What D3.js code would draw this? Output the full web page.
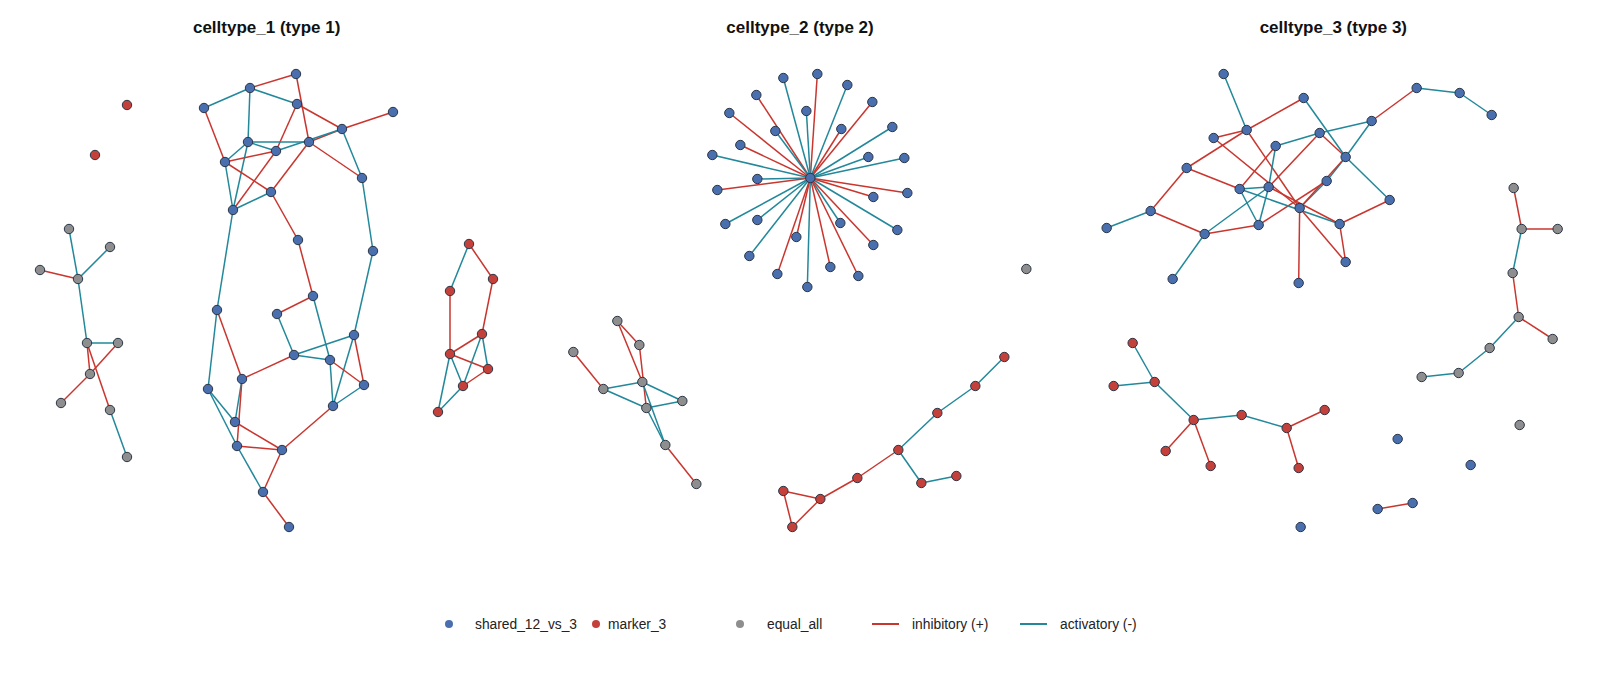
<!DOCTYPE html>
<html>
<head>
<meta charset="utf-8">
<script src="https://cdn.jsdelivr.net/npm/d3@7"></script>
<style>
  body { margin: 0; background: #fff; }
  svg { display: block; font-family: "Liberation Sans", Arial, sans-serif; }
</style>
</head>
<body>
<svg></svg>
<script>
// figure size
const size = {w: 1600, h: 681};
const panelW = size.w / 3;

const titles = ['celltype_1 (type 1)', 'celltype_2 (type 2)', 'celltype_3 (type 3)'];

// node groups and edge types (legend order)
const groups = ['shared_12_vs_3', 'marker_3', 'equal_all'];
const groupCode = {S: 'shared_12_vs_3', M: 'marker_3', E: 'equal_all'};
const edgeTypes = ['inhibitory (+)', 'activatory (-)'];
const edgeCode = {I: 'inhibitory (+)', A: 'activatory (-)'};

// layout coordinates, x relative to each panel
const nodes1 = [
  ['g1','E',69,229], ['g2','E',110,247], ['g3','E',40,270], ['g4','E',78,279],
  ['g5','E',87,343], ['g6','E',118,343], ['g7','E',90,374], ['g8','E',61,403],
  ['g9','E',110,410], ['g10','E',127,457],
  ['ra','M',127,105], ['rb','M',95,155],
  ['a1','S',296,74], ['a2','S',250,88], ['a3','S',204,108], ['a4','S',297,104],
  ['a5','S',393,112], ['a6','S',342,129], ['a7','S',248,142], ['a8','S',309,142],
  ['a9','S',276,151], ['a10','S',225,162], ['a11','S',362,178], ['a12','S',271,192],
  ['a13','S',233,210], ['a14','S',298,240], ['a15','S',373,251], ['a16','S',313,296],
  ['a17','S',217,310], ['a18','S',277,314], ['a19','S',354,335], ['a20','S',294,355],
  ['a21','S',330,360], ['a22','S',242,379], ['a23','S',364,385], ['a24','S',208,389],
  ['a25','S',333,406], ['a26','S',235,422], ['a27','S',237,446], ['a28','S',282,450],
  ['a29','S',263,492], ['a30','S',289,527],
  ['b1','M',469,244], ['b2','M',493,279], ['b3','M',450,291], ['b4','M',482,334],
  ['b5','M',450,354], ['b6','M',488,369], ['b7','M',463,386], ['b8','M',438,412]
];
const edges1 = [
  ['g1','g4','A'], ['g2','g4','A'], ['g3','g4','I'], ['g4','g5','A'], ['g5','g6','A'],
  ['g6','g7','I'], ['g7','g8','I'], ['g5','g7','I'], ['g5','g9','I'], ['g9','g10','A'],
  ['a1','a2','I'], ['a2','a3','A'], ['a2','a4','A'], ['a2','a7','A'], ['a1','a8','I'],
  ['a4','a6','I'], ['a4','a9','I'], ['a3','a10','I'], ['a6','a5','I'], ['a6','a8','I'],
  ['a9','a6','A'], ['a7','a8','A'], ['a6','a11','A'], ['a8','a11','I'], ['a8','a12','I'],
  ['a7','a9','A'], ['a7','a10','A'], ['a7','a13','A'], ['a10','a9','I'], ['a10','a12','I'],
  ['a10','a13','A'], ['a9','a13','I'], ['a12','a13','A'], ['a12','a14','I'], ['a14','a16','I'],
  ['a11','a15','A'], ['a13','a17','A'],
  ['a16','a21','A'], ['a18','a16','I'], ['a18','a20','A'], ['a20','a21','A'], ['a20','a19','A'],
  ['a20','a22','I'], ['a15','a19','A'], ['a19','a25','A'], ['a19','a23','I'], ['a21','a23','I'],
  ['a21','a25','A'], ['a23','a25','A'], ['a25','a28','I'], ['a22','a26','A'], ['a22','a27','I'],
  ['a17','a22','I'], ['a17','a24','A'], ['a24','a26','A'], ['a24','a27','A'], ['a27','a29','A'],
  ['a26','a28','I'], ['a27','a28','I'], ['a28','a29','I'], ['a29','a30','I'],
  ['b1','b3','A'], ['b1','b2','I'], ['b2','b4','I'], ['b3','b5','I'], ['b5','b4','I'],
  ['b5','b6','I'], ['b5','b7','A'], ['b5','b8','A'], ['b4','b7','A'], ['b4','b6','A'],
  ['b6','b7','I'], ['b7','b8','A']
];

// star hub plus leaves: [id, x, y, edge type to hub]
const hub2 = ['c','S',277,178];
const leaves2 = [
  ['l1',250,78,'A'], ['l2',284,74,'I'], ['l3',314,85,'A'], ['l4',223,95,'I'],
  ['l5',339,102,'I'], ['l6',196,113,'I'], ['l7',273,111,'A'], ['l8',359,127,'A'],
  ['l9',242,131,'A'], ['l10',308,129,'I'], ['l11',207,145,'I'], ['l12',335,157,'A'],
  ['l13',179,155,'A'], ['l14',371,158,'A'], ['l15',224,179,'A'], ['l16',184,190,'I'],
  ['l17',374,193,'I'], ['l18',340,197,'I'], ['l19',192,224,'A'], ['l20',224,220,'A'],
  ['l21',307,223,'A'], ['l22',364,230,'A'], ['l23',263,237,'I'], ['l24',340,245,'I'],
  ['l25',216,256,'A'], ['l26',244,274,'I'], ['l27',297,267,'I'], ['l28',325,276,'I'],
  ['l29',274,287,'A']
];
const nodes2 = [
  ['p1','E',84,321], ['p2','E',106,345], ['p3','E',40,352], ['p4','E',109,382],
  ['p5','E',70,389], ['p6','E',149,401], ['p7','E',113,408], ['p8','E',132,445],
  ['p9','E',163,484], ['pz','E',493,269],
  ['q1','M',471,357], ['q2','M',442,386], ['q3','M',404,413], ['q4','M',365,450],
  ['q5','M',423,476], ['q6','M',388,483], ['q7','M',324,478], ['q8','M',250,491],
  ['q9','M',287,499], ['q10','M',259,527]
];
const edges2 = [
  ['p1','p2','I'], ['p1','p4','I'], ['p2','p7','I'], ['p3','p5','I'], ['p5','p4','A'],
  ['p5','p7','A'], ['p4','p6','A'], ['p7','p6','A'], ['p4','p8','A'], ['p7','p8','A'],
  ['p8','p9','I'],
  ['q1','q2','A'], ['q2','q3','A'], ['q3','q4','A'], ['q4','q6','A'], ['q6','q5','A'],
  ['q4','q7','I'], ['q7','q9','I'], ['q9','q8','I'], ['q8','q10','I'], ['q9','q10','I']
];

const nodes3 = [
  ['s1','S',157,74], ['s2','S',237,98], ['s3','S',305,121], ['s4','S',180,130],
  ['s5','S',147,138], ['s6','S',253,133], ['s7','S',209,146], ['s8','S',279,157],
  ['s9','S',120,168], ['s10','S',260,181], ['s11','S',173,189], ['s12','S',202,187],
  ['s13','S',323,200], ['s14','S',233,208], ['s15','S',84,211], ['s16','S',273,224],
  ['s17','S',192,225], ['s18','S',40,228], ['s19','S',138,234], ['s20','S',279,262],
  ['s21','S',106,279], ['s22','S',232,283],
  ['t2','S',350,88], ['t3','S',393,93], ['t4','S',425,115],
  ['u1','E',447,188], ['u2','E',455,229], ['u3','E',491,229], ['u4','E',446,273],
  ['u5','E',452,317], ['u6','E',486,339], ['u7','E',423,348], ['u8','E',392,373],
  ['u9','E',355,377], ['uz','E',453,425],
  ['v1','M',66,343], ['v2','M',47,386], ['v3','M',88,382], ['v4','M',127,420],
  ['v5','M',175,415], ['v6','M',220,428], ['v7','M',258,410], ['v8','M',99,451],
  ['v9','M',144,466], ['v10','M',232,468],
  ['x1','S',331,439], ['x2','S',404,465], ['x3','S',234,527],
  ['w1','S',311,509], ['w2','S',346,503]
];
const edges3 = [
  ['s1','s4','A'], ['s2','s4','I'], ['s4','s5','I'], ['s4','s9','I'], ['s4','s14','I'],
  ['s5','s14','I'], ['s2','s8','A'], ['s8','s13','A'], ['s3','s6','A'], ['s6','s7','A'],
  ['s3','s8','A'], ['s6','s12','I'], ['s6','s8','I'], ['s7','s11','I'], ['s7','s12','A'],
  ['s12','s17','A'], ['s8','s10','A'], ['s10','s14','A'], ['s8','s14','I'], ['s17','s10','I'],
  ['s9','s15','I'], ['s9','s11','I'], ['s11','s12','A'], ['s11','s16','A'], ['s11','s17','A'],
  ['s12','s16','I'], ['s19','s12','A'], ['s19','s17','I'], ['s19','s15','I'], ['s15','s18','A'],
  ['s19','s21','A'], ['s14','s20','I'], ['s16','s20','I'], ['s14','s22','I'], ['s16','s13','I'],
  ['s3','t2','I'], ['t2','t3','A'], ['t3','t4','A'],
  ['u1','u2','I'], ['u2','u3','I'], ['u2','u4','A'], ['u4','u5','I'], ['u5','u6','I'],
  ['u5','u7','A'], ['u7','u8','A'], ['u8','u9','A'],
  ['v1','v3','A'], ['v2','v3','A'], ['v3','v4','A'], ['v4','v5','A'], ['v5','v6','A'],
  ['v6','v7','I'], ['v6','v10','I'], ['v4','v8','I'], ['v4','v9','I'],
  ['w1','w2','I']
];

// build panel 2 from hub + leaves
const nodes2all = [hub2].concat(leaves2.map(d => [d[0], 'S', d[1], d[2]])).concat(nodes2);
const edges2all = leaves2.map(d => ['c', d[0], d[3]]).concat(edges2);

const panels = [
  {nodes: nodes1, edges: edges1},
  {nodes: nodes2all, edges: edges2all},
  {nodes: nodes3, edges: edges3}
];

const nodeColor = d3.scaleOrdinal()
  .domain(groups)
  .range(['#4a6fae', '#c4403a', '#8e8e8e']);
const edgeColor = d3.scaleOrdinal()
  .domain(edgeTypes)
  .range(['#c9362f', '#22889a']);

const svg = d3.select('svg')
  .attr('width', size.w)
  .attr('height', size.h);

const y = d3.scaleLinear().domain([0, size.h]).range([0, size.h]);

panels.forEach(function (p, i) {
  const x = d3.scaleLinear()
    .domain([0, 533])
    .range([i * panelW, i * panelW + 533]);

  const g = svg.append('g').classed('panel', true);

  g.append('text')
    .attr('x', i * panelW + panelW / 2)
    .attr('y', 33)
    .attr('text-anchor', 'middle')
    .attr('font-size', 17)
    .attr('font-weight', 'bold')
    .attr('fill', '#111')
    .text(titles[i]);

  const byId = new Map(p.nodes.map(d => [d[0], d]));

  g.append('g').selectAll('line')
    .data(p.edges)
    .enter()
    .append('line')
    .attr('x1', d => x(byId.get(d[0])[2]))
    .attr('y1', d => y(byId.get(d[0])[3]))
    .attr('x2', d => x(byId.get(d[1])[2]))
    .attr('y2', d => y(byId.get(d[1])[3]))
    .attr('stroke', d => edgeColor(edgeCode[d[2]]))
    .attr('stroke-width', 1.5);

  g.append('g').selectAll('circle')
    .data(p.nodes)
    .enter()
    .append('circle')
    .attr('cx', d => x(d[2]))
    .attr('cy', d => y(d[3]))
    .attr('r', 4.7)
    .attr('fill', d => nodeColor(groupCode[d[1]]))
    .attr('stroke', '#2a3546')
    .attr('stroke-width', 1);
});

// legend
const legY = 624;
const legend = svg.append('g').classed('legend', true)
  .attr('font-size', 13.8)
  .attr('fill', '#222');

const groupX = [449, 596, 740];
const groupTextX = [475, 608, 767];
groups.forEach(function (name, i) {
  legend.append('circle')
    .attr('cx', groupX[i])
    .attr('cy', legY)
    .attr('r', 4)
    .attr('fill', nodeColor(name));
  legend.append('text')
    .attr('x', groupTextX[i])
    .attr('y', legY + 5)
    .text(name);
});

const edgeX = [872, 1020];
edgeTypes.forEach(function (name, i) {
  legend.append('line')
    .attr('x1', edgeX[i])
    .attr('x2', edgeX[i] + 27)
    .attr('y1', legY)
    .attr('y2', legY)
    .attr('stroke', edgeColor(name))
    .attr('stroke-width', 2);
  legend.append('text')
    .attr('x', edgeX[i] + 40)
    .attr('y', legY + 5)
    .text(name);
});
</script>
</body>
</html>
